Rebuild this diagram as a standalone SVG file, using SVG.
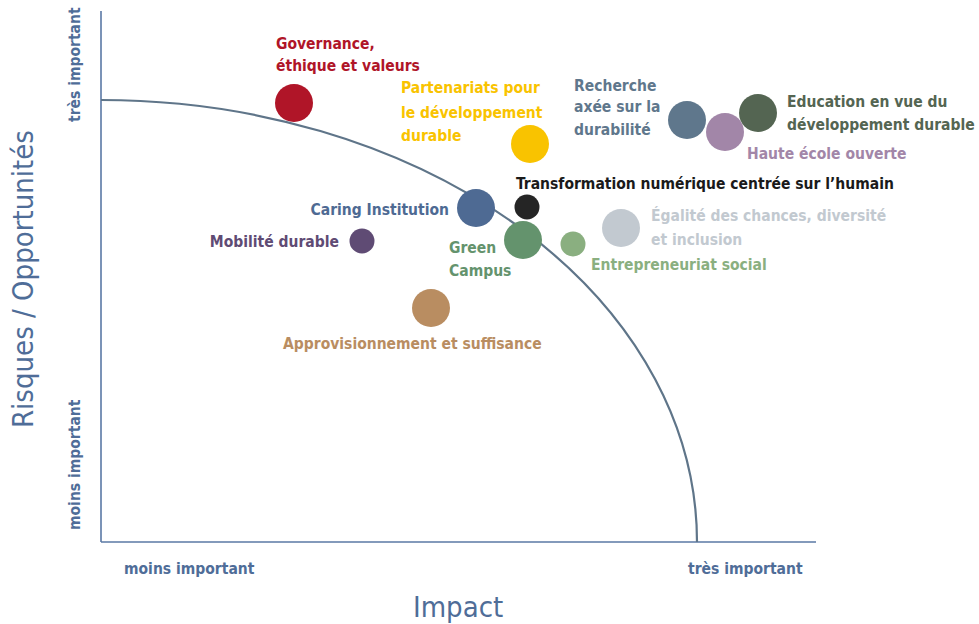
<svg xmlns="http://www.w3.org/2000/svg" width="979" height="624" viewBox="0 0 979 624">
<style>
text{font-family:"Liberation Sans Narrow","DejaVu Sans Condensed","Liberation Sans",sans-serif;font-size:15.5px;font-weight:bold}
.ax{fill:#4f6d98}
.axl{stroke:#5a78a5;stroke-width:1.6;fill:none}
.big{font-size:29px;font-weight:normal}
</style>
<rect width="979" height="624" fill="#fff"/>
<g id="axes">
<line class="axl" x1="101" y1="11" x2="101" y2="542"/>
<line class="axl" x1="101" y1="542" x2="816" y2="542"/>
<text class="ax" x="124" y="574">moins important</text>
<text class="ax" x="688" y="574">très important</text>
<text class="ax big" x="413" y="617">Impact</text>
<text class="ax big" transform="translate(33,428) rotate(-90)">Risques / Opportunités</text>
<text class="ax" transform="translate(80,122) rotate(-90)">très important</text>
<text class="ax" transform="translate(80,530) rotate(-90)">moins important</text>
</g>
<g id="connectors">
<path d="M101,100 A596,442 0 0 1 697,542" fill="none" stroke="#5f7589" stroke-width="2.2"/>
</g>
<g id="governance"><circle cx="294" cy="103" r="19" fill="#b01528"/><text fill="#b01528" x="276" y="49">Governance,</text><text fill="#b01528" x="276" y="71">éthique et valeurs</text></g>
<g id="partenariats"><circle cx="530" cy="144" r="19" fill="#f9c300"/><text fill="#f9c300" x="401" y="93">Partenariats pour</text><text fill="#f9c300" x="401" y="118">le développement</text><text fill="#f9c300" x="401" y="141">durable</text></g>
<g id="recherche"><circle cx="687" cy="120" r="19" fill="#5f778c"/><text fill="#5f778c" x="574" y="91">Recherche</text><text fill="#5f778c" x="574" y="112">axée sur la</text><text fill="#5f778c" x="574" y="135">durabilité</text></g>
<g id="haute-ecole"><circle cx="725" cy="132" r="19" fill="#a286a8"/><text fill="#a286a8" x="747" y="159">Haute école ouverte</text></g>
<g id="education"><circle cx="758" cy="113" r="19" fill="#546552"/><text fill="#546552" x="787" y="107">Education en vue du</text><text fill="#546552" x="787" y="130">développement durable</text></g>
<g id="transformation"><circle cx="527" cy="207" r="12.5" fill="#252525"/><text fill="#1a1a1a" x="516" y="189">Transformation numérique centrée sur l’humain</text></g>
<g id="caring"><circle cx="476" cy="208" r="19" fill="#4e6a93"/><text fill="#4e6a93" x="449" y="215" text-anchor="end">Caring Institution</text></g>
<g id="mobilite"><circle cx="362" cy="241" r="12.5" fill="#5f4b74"/><text fill="#5f4b74" x="339" y="247" text-anchor="end">Mobilité durable</text></g>
<g id="green"><circle cx="523" cy="240" r="19" fill="#64936d"/><text fill="#64936d" x="449" y="253">Green</text><text fill="#64936d" x="449" y="276">Campus</text></g>
<g id="entrepreneuriat"><circle cx="573" cy="244" r="12.5" fill="#8aaf80"/><text fill="#8aaf80" x="591" y="270">Entrepreneuriat social</text></g>
<g id="egalite"><circle cx="621" cy="228" r="19" fill="#c2c9d0"/><text fill="#c2c9d0" x="651" y="221">Égalité des chances, diversité</text><text fill="#c2c9d0" x="651" y="245">et inclusion</text></g>
<g id="approvisionnement"><circle cx="431" cy="308" r="19" fill="#b98d61"/><text fill="#b98d61" x="283" y="349">Approvisionnement et suffisance</text></g>
</svg>
